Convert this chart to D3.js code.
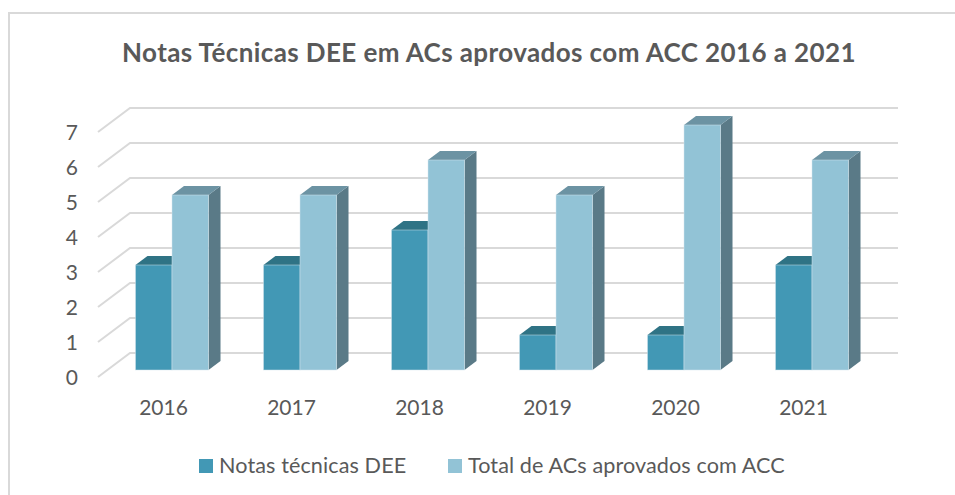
<!DOCTYPE html>
<html>
<head>
<meta charset="utf-8">
<script src="https://cdn.jsdelivr.net/npm/d3@7"></script>
<style>
  html, body { margin: 0; padding: 0; background: #fff; overflow: hidden; }
  svg { display: block; font-family: Lato, "Open Sans", sans-serif; }
</style>
</head>
<body>
<div id="container"></div>
<script>
const categories = ['2016', '2017', '2018', '2019', '2020', '2021'];
const notasTecnicas = [3, 3, 4, 1, 1, 3];
const totalAcs = [5, 5, 6, 5, 7, 6];
const seriesNames = ['Notas técnicas DEE', 'Total de ACs aprovados com ACC'];
const yTicks = [0, 1, 2, 3, 4, 5, 6, 7];

const width = 955;
const height = 495;
const depthX = 12;
const depthY = 9;
const floorX = 32;
const floorY = 24;

const palette = [
  { front: '#4298b5', top: '#2f7385', side: '#2b6274' },
  { front: '#92c3d6', top: '#6c93a3', side: '#5a7a87' }
];

const svg = d3.select('#container').append('svg')
  .attr('width', width)
  .attr('height', height);

// the frame is cut off by the screenshot on the right and at the bottom
svg.append('path')
  .attr('d', `M9,${height}V13H${width}`)
  .attr('fill', 'none')
  .attr('stroke', '#d9d9d9')
  .attr('stroke-width', 2);

svg.append('text')
  .attr('x', 489)
  .attr('y', 62)
  .attr('text-anchor', 'middle')
  .attr('fill', '#595959')
  .style('font-size', '26px')
  .style('letter-spacing', '0.4px')
  .style('font-weight', 700)
  .text('Notas Técnicas DEE em ACs aprovados com ACC 2016 a 2021');

const x = d3.scaleBand().domain(categories).range([108, 876]);
const xInner = d3.scaleBand().domain([0, 1]).range([0, x.bandwidth()]).paddingInner(0).paddingOuter(0.753);
const y = d3.scaleLinear().domain([0, 7]).range([370, 125]);

// back wall and floor gridlines
const grid = svg.append('g').attr('fill', 'none').attr('stroke', '#d9d9d9').attr('stroke-width', 2);
grid.selectAll('path')
  .data(yTicks)
  .enter()
  .append('path')
  .attr('d', (d) => {
    const front = y(d) + floorY - 17;
    const back = y(d) - 17;
    return `M${x.range()[0] - 10},${front}L${x.range()[0] + floorX - 10},${back}H898`;
  });

const yAxis = svg.append('g')
  .attr('transform', 'translate(84, 8)')
  .call(d3.axisLeft(y).tickValues(yTicks).tickSize(0).tickPadding(6).tickFormat(d3.format('d')));
yAxis.select('.domain').remove();
yAxis.selectAll('text')
  .attr('fill', '#595959')
  .style('font-family', 'Lato, sans-serif')
  .style('font-size', '21px');

const xAxis = svg.append('g')
  .attr('transform', 'translate(-8.5, 394)')
  .call(d3.axisBottom(x).tickSize(0).tickPadding(6));
xAxis.select('.domain').remove();
xAxis.selectAll('text')
  .attr('fill', '#595959')
  .style('font-family', 'Lato, sans-serif')
  .style('font-size', '21px');

function drawBars(values, index) {
  const colors = palette[index];
  const bars = svg.append('g').selectAll('g')
    .data(values)
    .enter()
    .append('g')
    .attr('transform', (d, i) => `translate(${x(categories[i]) + xInner(index)}, 0)`);
  const w = xInner.bandwidth();

  bars.append('path')
    .attr('fill', colors.side)
    .attr('d', (d) => `M${w},${y(d)}l${depthX},${-depthY}V${y(0) - depthY}l${-depthX},${depthY}Z`);
  bars.append('path')
    .attr('fill', colors.top)
    .attr('d', (d) => `M0,${y(d)}l${depthX},${-depthY}h${w}l${-depthX},${depthY}Z`);
  bars.append('rect')
    .attr('y', (d) => y(d))
    .attr('width', w)
    .attr('height', (d) => y(0) - y(d))
    .attr('fill', colors.front)
    .attr('stroke', '#d5e8ef')
    .attr('stroke-opacity', 0.6)
    .attr('stroke-width', 0.8);
}

drawBars(notasTecnicas, 0);
drawBars(totalAcs, 1);

const legendX = [199, 448];
const legend = svg.append('g').selectAll('g')
  .data(seriesNames)
  .enter()
  .append('g')
  .attr('transform', (d, i) => `translate(${legendX[i]}, 459)`);
legend.append('rect')
  .attr('width', 14)
  .attr('height', 14)
  .attr('fill', (d, i) => palette[i].front);
legend.append('text')
  .attr('x', 20)
  .attr('y', 14)
  .attr('fill', '#595959')
  .style('font-size', '21.6px')
  .style('letter-spacing', '0.1px')
  .text((d) => d);
</script>
</body>
</html>
